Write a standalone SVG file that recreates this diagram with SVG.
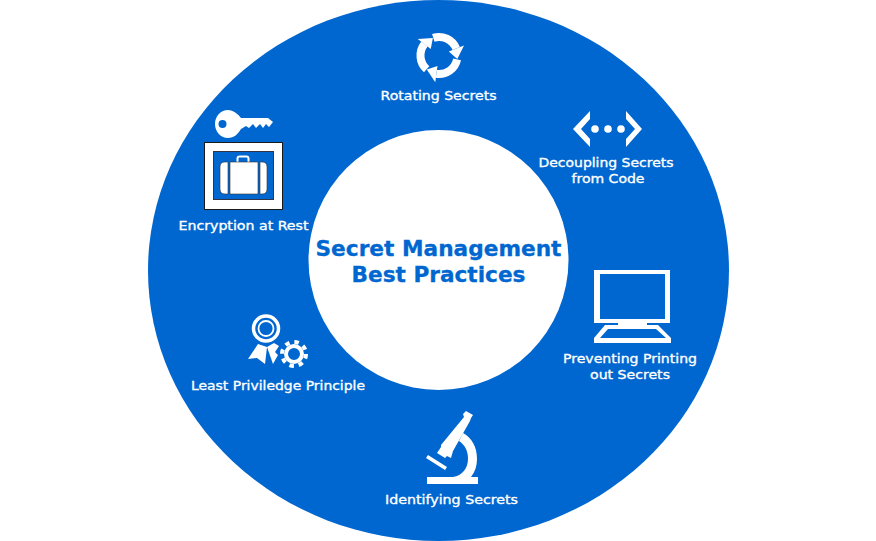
<svg xmlns="http://www.w3.org/2000/svg" width="876" height="541" viewBox="0 0 876 541">
<style>
text{font-family:"DejaVu Sans",Verdana,sans-serif;text-anchor:middle}
.l{font-size:13px;fill:#fff;font-weight:500;stroke:#fff;stroke-width:.35}
.t{font-size:21.5px;font-weight:700;fill:#0067d0;stroke:#0067d0;stroke-width:.3}
.w{fill:#fff}
</style>
<defs><g id="arrow"><path d="M-5.700 -17.600A18.500 18.500 0 0 1 17.200 -6.900" fill="none" stroke="#fff" stroke-width="8"/><path class="w" d="M9.800 -3.900L25 -10.100L18.300 3.500Z"/></g></defs>
<g id="ring"><ellipse cx="438.500" cy="270.500" rx="290.500" ry="270.500" fill="#0067d0"/><circle cx="438.500" cy="260" r="130" fill="#fff"/></g>
<g id="center"><text class="t" x="438.500" y="256" textLength="246" lengthAdjust="spacingAndGlyphs">Secret Management</text><text class="t" x="438.500" y="282" textLength="174" lengthAdjust="spacingAndGlyphs">Best Practices</text></g>
<g id="rotating">
<use href="#arrow" transform="translate(439 55.500)"/><use href="#arrow" transform="translate(439 55.500) rotate(120)"/><use href="#arrow" transform="translate(439 55.500) rotate(240)"/>
<text class="l" x="438.500" y="100" textLength="116" lengthAdjust="spacingAndGlyphs">Rotating Secrets</text></g>
<g id="decoupling">
<path class="w" d="M590 111L590 119L581 129L590 139L590 147L573 129Z"/><path class="w" d="M626 111L626 119L635 129L626 139L626 147L642 129Z"/>
<circle class="w" cx="595" cy="129" r="3.800"/><circle class="w" cx="608" cy="129" r="3.800"/><circle class="w" cx="621" cy="129" r="3.800"/>
<text class="l" x="606" y="167" textLength="135" lengthAdjust="spacingAndGlyphs">Decoupling Secrets</text><text class="l" x="608" y="183" textLength="73" lengthAdjust="spacingAndGlyphs">from Code</text></g>
<g id="preventing">
<path class="w" fill-rule="evenodd" d="M594 270H670V323H647V325H658L671 338V343H594V338L605 325H618V323H594ZM600 274V319H665V274ZM608 329L600 338H666L656 329Z"/>
<text class="l" x="630" y="363" textLength="134" lengthAdjust="spacingAndGlyphs">Preventing Printing</text><text class="l" x="630" y="379" textLength="80" lengthAdjust="spacingAndGlyphs">out Secrets</text></g>
<g id="identifying">
<path class="w" d="M427 477H453C462 476 468 468 468 459C468 451 465 445 459 441L463 433C472 438 477 447 477 459C477 466 475 472 471 477H478V484H427Z"/>
<path class="w" d="M463 414L466 411L473 415L471 418L470 421L453 451L451 458L447 456L445 458L437 453L441 447L441 445L464 417Z"/>
<path class="w" d="M426 458L428 455L447 467L445 470Z"/>
<text class="l" x="451.500" y="504" textLength="133" lengthAdjust="spacingAndGlyphs">Identifying Secrets</text></g>
<g id="least">
<circle cx="266" cy="328.500" r="12.500" fill="none" stroke="#fff" stroke-width="3.500"/><circle cx="266" cy="328.500" r="7.500" fill="none" stroke="#fff" stroke-width="1.800"/>
<path class="w" d="M258 344L248 359L257 358L265 364L267 347Z"/><path class="w" d="M267 347L273 364L278 355L275 352L279 346L274 343Z"/>
<circle cx="294" cy="354" r="8" fill="none" stroke="#fff" stroke-width="4"/>
<circle cx="294" cy="354" r="12" fill="none" stroke="#fff" stroke-width="4" stroke-dasharray="4.500 4.925"/>
<text class="l" x="278" y="390" textLength="174" lengthAdjust="spacingAndGlyphs">Least Priviledge Principle</text></g>
<g id="encryption">
<path class="w" fill-rule="evenodd" d="M215 124C215 116 221 110 228 110C233 110 238 114 241 118H268L273 122L269 127L266 124L263 128L260 124L256 128L253 124L249 128L246 126L241 129C238 134 234 138 228 138C221 138 215 132 215 124ZM218.500 124A4 4 0 1 0 226.500 124A4 4 0 1 0 218.500 124Z"/>
<rect x="204.500" y="142.500" width="78" height="67" fill="#fff" stroke="#1a1a1a"/>
<rect x="213.500" y="151.500" width="60" height="48" fill="#0067d0" stroke="#334"/>
<rect x="237.500" y="156.500" width="11" height="8" rx="2" fill="none" stroke="#fff" stroke-width="2"/>
<rect x="230" y="162" width="28" height="32" fill="#fff" stroke="#333" stroke-width=".6"/>
<path class="w" stroke="#333" stroke-width=".6" d="M228 162V194H225Q220 194 220 189V167Q220 162 225 162ZM260 162V194H262Q267 194 267 189V167Q267 162 262 162Z"/>
<text class="l" x="243.500" y="230" textLength="130" lengthAdjust="spacingAndGlyphs">Encryption at Rest</text></g>
</svg>
